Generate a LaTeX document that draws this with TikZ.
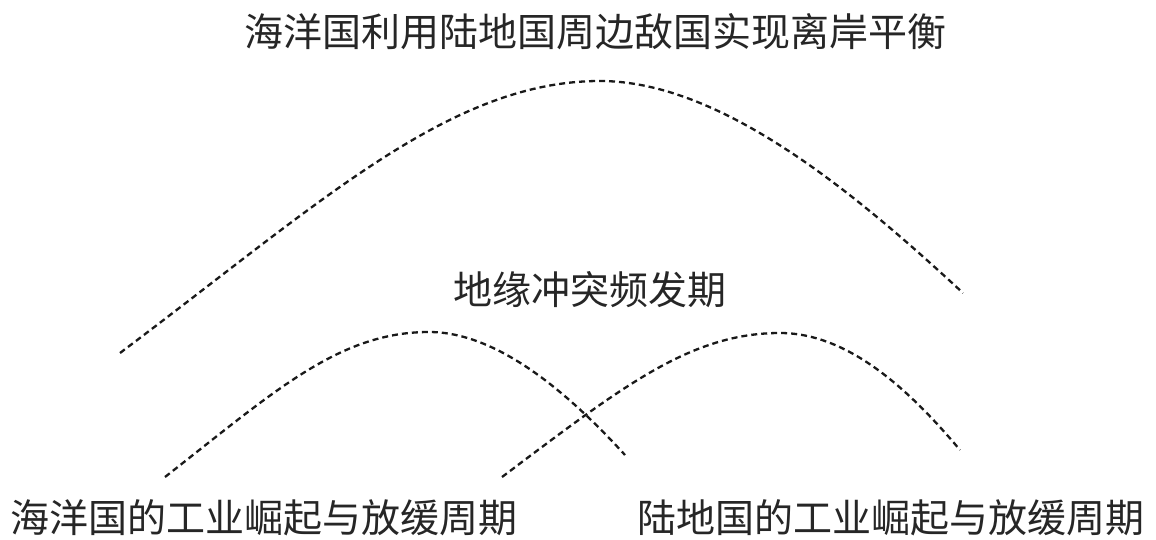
\documentclass[tikz,border=0pt]{standalone}
\usepackage{fontspec}
\newfontfamily\cjk{Noto Sans CJK SC}
\begin{document}
\begin{tikzpicture}[x=1pt,y=-1pt,
  lbl/.style={font=\cjk\fontsize{39}{42}\selectfont, text=black!85, inner sep=0pt, anchor=center},
  wave/.style={draw=black!90, line width=2.3pt, dash pattern=on 6pt off 4pt}]
\useasboundingbox (0,0) rectangle (1156,540);
\node[lbl] (title) at (595,32) {海洋国利用陆地国周边敌国实现离岸平衡};
\node[lbl] (mid) at (590,290) {地缘冲突频发期};
\node[lbl] (sea) at (264,518) {海洋国的工业崛起与放缓周期};
\node[lbl] (land) at (891,518) {陆地国的工业崛起与放缓周期};
% big curve
\coordinate (b0) at (120,353);
\coordinate (b1) at (600,81);
\coordinate (b2) at (963,293);
\draw[wave] (b0) .. controls (320,203) and (450,81) .. (b1)
  .. controls (720,81) and (853,191) .. (b2);
% left small curve
\coordinate (l0) at (165,477);
\coordinate (l1) at (429,332);
\coordinate (l2) at (625,455);
\draw[wave] (l0) .. controls (275,391) and (339,332) .. (l1)
  .. controls (499,332) and (571,396) .. (l2);
% right small curve
\coordinate (r0) at (502,477);
\coordinate (r1) at (780,333);
\coordinate (r2) at (960,450);
\draw[wave] (r0) .. controls (622,387) and (690,333) .. (r1)
  .. controls (850,333) and (912,393) .. (r2);
\end{tikzpicture}
\end{document}
